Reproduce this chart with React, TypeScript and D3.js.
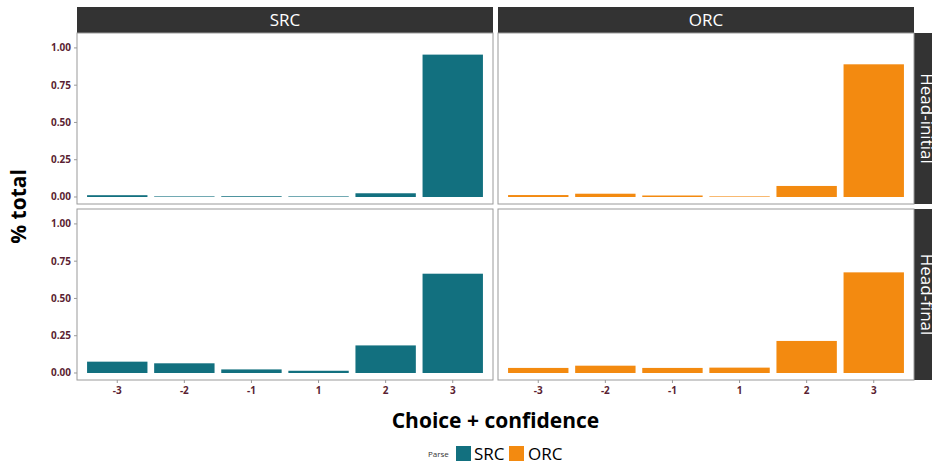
import * as d3 from 'd3';

const choices = ['-3', '-2', '-1', '1', '2', '3'];
const parses = ['SRC', 'ORC'];
const orders = ['Head-initial', 'Head-final'];

const srcInitial = [0.012, 0.004, 0.005, 0.004, 0.025, 0.955];
const orcInitial = [0.013, 0.022, 0.01, 0.004, 0.074, 0.89];
const srcFinal = [0.076, 0.065, 0.024, 0.015, 0.185, 0.666];
const orcFinal = [0.034, 0.049, 0.034, 0.036, 0.215, 0.675];

const yTicks = [0, 0.25, 0.5, 0.75, 1];

const values: Record<string, number[]> = {
  'SRC|Head-initial': srcInitial,
  'ORC|Head-initial': orcInitial,
  'SRC|Head-final': srcFinal,
  'ORC|Head-final': orcFinal,
};

const colors: Record<string, string> = { SRC: '#12707f', ORC: '#f38a10' };

const width = 932;
const height = 465;
const left = 77;
const top = 33;
const panelW = 416;
const panelH = 171;
const gap = 5;
const stripH = 26;
const font = '"Open Sans", "Noto Sans", sans-serif';
const tickColor = '#5b1f33';

export default function App() {
  // ggplot-style discrete axis: 0.6 expansion each side, bar width 0.9
  const x = d3
    .scaleBand()
    .domain(choices)
    .range([0, panelW])
    .paddingInner(0.1)
    .paddingOuter(0.15);

  const y = d3.scaleLinear().domain([-0.047, 1.1]).range([panelH, 0]);

  return (
    <svg
      width={width}
      height={height}
      style={{ position: 'absolute', left: 0, top: 0, background: '#fff' }}
      fontFamily={font}
    >
      {parses.map((p, ci) => {
        const px = left + ci * (panelW + gap);
        return (
          <g key={p}>
            <rect x={px} y={top - stripH} width={panelW} height={stripH} fill="#333" />
            <text
              x={px + panelW / 2}
              y={top - stripH / 2 + 6}
              textAnchor="middle"
              fill="#fff"
              fontSize={17}
            >
              {p}
            </text>
          </g>
        );
      })}

      {orders.map((o, ri) => {
        const py = top + ri * (panelH + gap);
        const sx = left + 2 * panelW + gap;
        return (
          <g key={o}>
            <rect x={sx} y={py} width={stripH} height={panelH} fill="#333" />
            <text
              transform={`translate(${sx + stripH / 2 - 6},${py + panelH / 2}) rotate(90)`}
              textAnchor="middle"
              fill="#fff"
              fontSize={17}
            >
              {o}
            </text>
          </g>
        );
      })}

      {orders.map((o, ri) =>
        parses.map((p, ci) => {
          const px = left + ci * (panelW + gap);
          const py = top + ri * (panelH + gap);
          const vals = values[`${p}|${o}`];
          return (
            <g key={`${p}-${o}`} transform={`translate(${px},${py})`}>
              <rect width={panelW} height={panelH} fill="#fff" />
              {choices.map((c, i) => (
                <rect
                  key={c}
                  x={x(c)}
                  y={y(vals[i])}
                  width={x.bandwidth()}
                  height={y(0) - y(vals[i])}
                  fill={colors[p]}
                />
              ))}
              <rect
                width={panelW}
                height={panelH}
                fill="none"
                stroke="#9a9a9a"
                strokeWidth={1}
              />
              {ci === 0 &&
                yTicks.map((t) => (
                  <g key={t} transform={`translate(0,${y(t)})`}>
                    <line x1={-3} x2={0} stroke="#999" />
                    <text
                      x={-6}
                      dy="0.35em"
                      textAnchor="end"
                      fontSize={10}
                      fontWeight="bold"
                      fill={tickColor}
                    >
                      {t.toFixed(2)}
                    </text>
                  </g>
                ))}
              {ri === 1 &&
                choices.map((c) => (
                  <g key={c} transform={`translate(${(x(c) || 0) + x.bandwidth() / 2},${panelH})`}>
                    <line y1={0} y2={3} stroke="#999" />
                    <text
                      y={14}
                      textAnchor="middle"
                      fontSize={10}
                      fontWeight="bold"
                      fill={tickColor}
                    >
                      {c}
                    </text>
                  </g>
                ))}
            </g>
          );
        })
      )}

      <text
        transform={`translate(26,${top + panelH + gap / 2}) rotate(-90)`}
        textAnchor="middle"
        fontSize={21}
        fontWeight="bold"
        fill="#000"
      >
        % total
      </text>
      <text
        x={left + panelW + gap / 2}
        y={428}
        textAnchor="middle"
        fontSize={21}
        fontWeight="bold"
        fill="#000"
      >
        Choice + confidence
      </text>

      <g>
        <text x={428} y={457} fontSize={8} fill="#333">
          Parse
        </text>
        <rect x={456} y={446} width={15} height={15} fill={colors.SRC} />
        <text x={474} y={460} fontSize={17} fill="#000">
          SRC
        </text>
        <rect x={509} y={446} width={15} height={15} fill={colors.ORC} />
        <text x={528} y={460} fontSize={17} fill="#000">
          ORC
        </text>
      </g>
    </svg>
  );
}
